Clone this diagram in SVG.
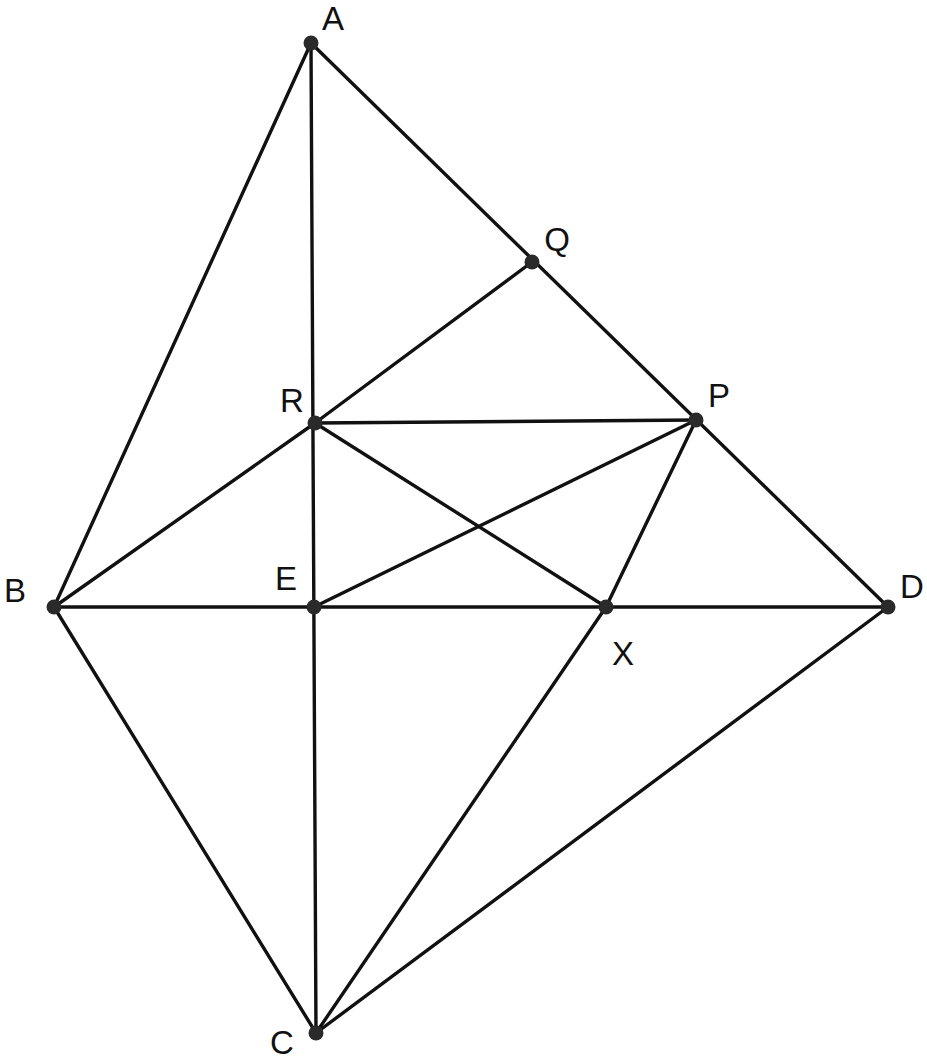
<svg xmlns="http://www.w3.org/2000/svg" width="927" height="1062" viewBox="0 0 927 1062">
<style>
.e{stroke:#111;stroke-width:3.4;fill:none;stroke-linecap:round}
.d{fill:#2a2a2a}
.t{font-family:"Liberation Sans",Arial,sans-serif;font-size:33px;fill:#111;text-anchor:middle}
</style>
<rect width="927" height="1062" fill="#fff"/>
<g id="connectors">
<line class="e" x1="311" y1="43" x2="54" y2="607"/>
<line class="e" x1="311" y1="43" x2="316" y2="1033"/>
<line class="e" x1="311" y1="43" x2="888" y2="607"/>
<line class="e" x1="532" y1="262" x2="315" y2="423"/>
<line class="e" x1="315" y1="423" x2="696" y2="420"/>
<line class="e" x1="315" y1="423" x2="54" y2="607"/>
<line class="e" x1="315" y1="423" x2="606" y2="607"/>
<line class="e" x1="314" y1="607" x2="696" y2="420"/>
<line class="e" x1="696" y1="420" x2="606" y2="607"/>
<line class="e" x1="54" y1="607" x2="888" y2="607"/>
<line class="e" x1="54" y1="607" x2="316" y2="1033"/>
<line class="e" x1="606" y1="607" x2="316" y2="1033"/>
<line class="e" x1="888" y1="607" x2="316" y2="1033"/>
</g>
<g id="A"><circle class="d" cx="311" cy="43" r="7.5"/><text class="t" x="333" y="30">A</text></g>
<g id="Q"><circle class="d" cx="532" cy="262" r="7.5"/><text class="t" x="557" y="251">Q</text></g>
<g id="R"><circle class="d" cx="315" cy="423" r="7.5"/><text class="t" x="292" y="412">R</text></g>
<g id="P"><circle class="d" cx="696" cy="420" r="7.5"/><text class="t" x="719" y="407">P</text></g>
<g id="B"><circle class="d" cx="54" cy="607" r="7.5"/><text class="t" x="15" y="602">B</text></g>
<g id="E"><circle class="d" cx="314" cy="607" r="7.5"/><text class="t" x="286" y="590">E</text></g>
<g id="X"><circle class="d" cx="606" cy="607" r="7.5"/><text class="t" x="623" y="665">X</text></g>
<g id="D"><circle class="d" cx="888" cy="607" r="7.5"/><text class="t" x="912" y="598">D</text></g>
<g id="C"><circle class="d" cx="316" cy="1033" r="7.5"/><text class="t" x="282" y="1054">C</text></g>
</svg>
